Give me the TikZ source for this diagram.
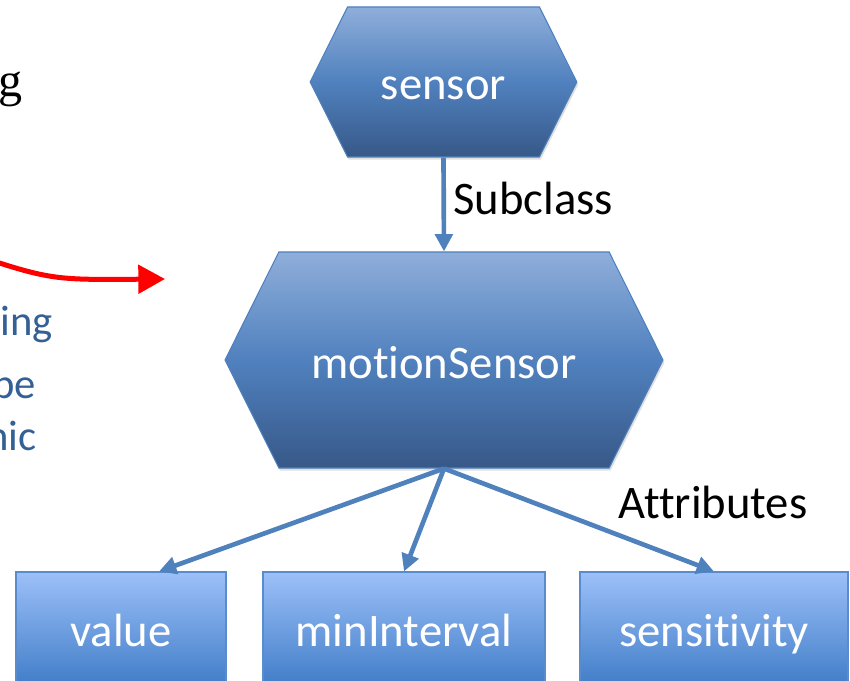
\documentclass[tikz,border=0pt]{standalone}
\usepackage{fontspec}
\setmainfont[Ligatures=NoCommon]{Carlito}
\newfontfamily\seriffont{Liberation Serif}
\usepackage{xcolor}
\usepackage{tikz}
\usetikzlibrary{shapes.symbols, arrows.meta, positioning, calc, shadows}

\definecolor{hextop}{RGB}{143,174,218}
\definecolor{hexmid}{RGB}{80,129,190}
\definecolor{hexbot}{RGB}{55,88,136}
\definecolor{hexline}{RGB}{79,129,189}
\definecolor{boxtop}{RGB}{156,192,248}
\definecolor{boxbot}{RGB}{66,126,201}
\definecolor{boxline}{RGB}{90,140,205}
\definecolor{linkblue}{RGB}{79,129,189}
\definecolor{noteblue}{RGB}{52,96,150}

\begin{document}
\begin{tikzpicture}[x=0.75pt, y=-0.75pt,
    hexa/.style={signal, signal to=west and east, signal pointer angle=127, draw=hexline, line width=0.8pt, top color=hextop, bottom color=hexbot, middle color=hexmid, text=white, font=\fontsize{35}{42}\selectfont, text height=33pt, text depth=6pt, inner sep=0pt, drop shadow={opacity=0.25, shadow xshift=1pt, shadow yshift=-2pt}},
    attr/.style={rectangle, draw=boxline, line width=0.8pt, top color=boxtop, bottom color=boxbot, text=white, font=\fontsize{35}{42}\selectfont, text height=33pt, text depth=6pt, inner sep=0pt, minimum height=84pt, drop shadow={opacity=0.25, shadow xshift=1pt, shadow yshift=-2pt}},
    link/.style={-{Triangle[length=13pt,width=13pt]}, line width=3.5pt, draw=linkblue},
    redarrow/.style={-{Triangle[length=20pt,width=21pt]}, line width=3.75pt, draw=red},
    lbl/.style={font=\fontsize{35}{42}\selectfont, inner sep=0pt},
    note/.style={font=\fontsize{32}{38}\selectfont, text=noteblue, inner sep=0pt}
]
\clip (0,0) rectangle (850,681);

% Classes
\node[hexa, minimum width=200pt, minimum height=112.5pt] (sensor) at (443.5,82) {sensor};
\node[hexa, minimum width=328.5pt, minimum height=162pt] (ms) at (444,360) {motionSensor};

% Attributes
\node[attr, minimum width=157.5pt] (value) at (121,628) {value};
\node[attr, minimum width=211.5pt] (mint) at (404,628) {minInterval};
\node[attr, minimum width=201pt] (sens) at (714,628) {sensitivity};

% Edge labels
\node[lbl, anchor=base west] (subcl) at (453,215) {Subclass};
\node[lbl, anchor=base west] (attrs) at (618,518) {Attributes};

% Cut-off text on the left
\node[anchor=base east, inner sep=0pt, font=\seriffont\fontsize{36}{42}\selectfont] (txtg) at (23,97) {ng};
\node[note, anchor=base west] (txt1) at (0,335) {ing};
\node[note, anchor=base east] (txt2) at (36,398) {be};
\node[note, anchor=base east] (txt3) at (37,450) {nic};

% Red pointer
\coordinate (redstart) at (-40,250);
\coordinate (redtip) at (165,279);
\draw[redarrow] (redstart) .. controls (50,280) .. (redtip);

% Links
\draw[link] (sensor.south) -- (ms.north);
\draw[link] (ms.south) -- ($(value.north west)!0.68!(value.north east)$);
\draw[link] (ms.south) -- (mint.north);
\draw[link] (ms.south) -- (sens.north);

\end{tikzpicture}
\end{document}
